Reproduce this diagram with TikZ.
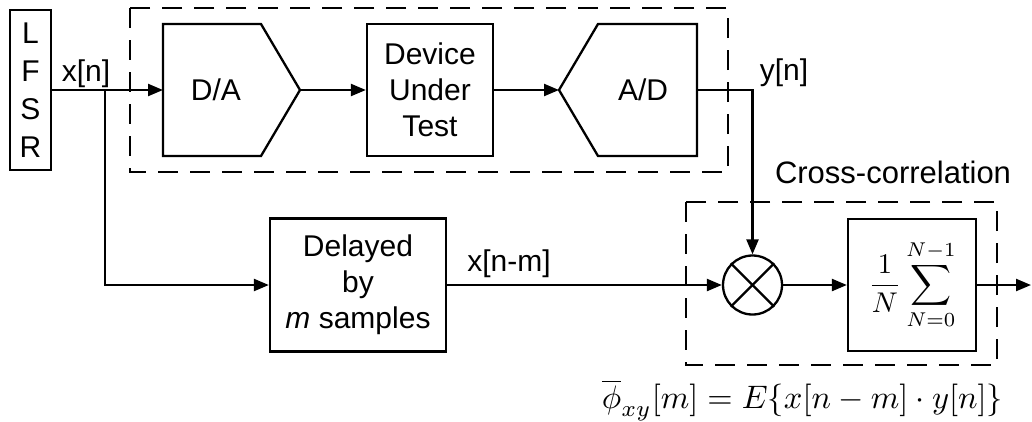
\documentclass[tikz,border=0pt]{standalone}
\usepackage{amsmath}
\usepackage{fontspec}
\usepackage{graphicx}
\setmainfont{Liberation Sans}
\usetikzlibrary{arrows.meta,calc}
\begin{document}
\begin{tikzpicture}[x=1pt,y=-1pt,
  line width=2.3pt,
  every node/.style={font=\fontsize{30}{36}\selectfont},
  blk/.style={draw, rectangle, inner sep=0pt, align=center},
  arr/.style={-{Triangle[length=15pt,width=12pt]}},
  grp/.style={dash pattern=on 20pt off 12pt},
]
\useasboundingbox (0,0) rectangle (1032,421);

% signal source
\node[blk, minimum width=41pt, minimum height=160pt,
      font=\fontsize{30}{38}\selectfont] (lfsr) at (30.5,90) {L\\F\\S\\R};

% converter chain around the device under test
\draw (163,24) -- (261,24) -- (300,90) -- (261,156) -- (163,156) -- cycle;
\coordinate (daIn) at (163,90);
\coordinate (daOut) at (300,90);
\node (da) at (216,90) {D/A};

\node[blk, minimum width=126pt, minimum height=132pt] (dut) at (430,90) {Device\\Under\\Test};

\draw (559,90) -- (598,24) -- (697,24) -- (697,156) -- (598,156) -- cycle;
\coordinate (adIn) at (559,90);
\coordinate (adOut) at (697,90);
\node (ad) at (643,90) {A/D};

\draw[grp] (130,8) rectangle (728,172);

% reference path
\node[blk, minimum width=176pt, minimum height=133pt] (delay) at (358,285) {Delayed\\by\\\textit{m} samples};

% cross-correlation block
\node[draw, circle, minimum size=59pt, inner sep=0pt] (mult) at (752.5,285) {};
\draw (mult.north east) -- (mult.south west);
\draw (mult.north west) -- (mult.south east);

\node[blk, minimum width=128pt, minimum height=132pt] (sum) at (912,285)
  {\resizebox{87pt}{!}{\normalsize$\displaystyle\frac{1}{N}\sum_{N=0}^{N-1}$}};

\draw[grp] (686,202) rectangle (997,365);
\node[anchor=base, font=\fontsize{31}{36}\selectfont] (cc) at (893,183) {Cross-correlation};

\node (phi) at (802.5,400)
  {\resizebox{401pt}{!}{\normalsize$\overline{\phi}_{xy}[m] = E\{x[n-m]\cdot y[n]\}$}};

% connectors
\coordinate (br) at (105,90);
\coordinate (out) at (1031,285);
\draw[arr] (lfsr.east) -- (daIn);
\draw[arr] (br) |- (delay.west);
\draw[arr] (daOut) -- (dut.west);
\draw[arr] (dut.east) -- (adIn);
\draw[arr] (adOut) -| (mult.north);
\draw[arr] (delay.east) -- (mult.west);
\draw[arr] (mult.east) -- (sum.west);
\draw[arr] (sum.east) -- (out);

% signal labels
\node[anchor=base] (xn) at (86,81) {x[n]};
\node[anchor=base] (yn) at (784,80) {y[n]};
\node[anchor=base] (xnm) at (509,271) {x[n-m]};
\end{tikzpicture}
\end{document}
